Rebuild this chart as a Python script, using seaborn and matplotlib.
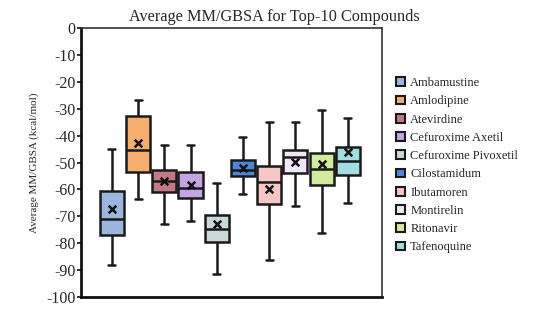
import matplotlib
matplotlib.use("Agg")
import matplotlib.pyplot as plt
import seaborn as sns
import pandas as pd

compounds = ["Ambamustine", "Amlodipine", "Atevirdine", "Cefuroxime Axetil",
             "Cefuroxime Pivoxetil", "Cilostamidum", "Ibutamoren", "Montirelin",
             "Ritonavir", "Tafenoquine"]
whisker_low = [-88.2, -63.6, -72.7, -71.7, -91.3, -61.6, -86.3, -66.2, -76.3, -65.0]
q1 = [-76.9, -53.5, -60.9, -63.1, -79.6, -55.1, -65.4, -54.0, -58.4, -54.7]
median = [-71.0, -45.5, -56.7, -59.4, -74.6, -52.7, -57.2, -48.1, -52.5, -49.6]
q3 = [-60.7, -32.8, -52.6, -53.5, -69.6, -49.1, -51.4, -45.4, -46.4, -44.3]
whisker_high = [-44.8, -26.8, -43.4, -43.4, -57.5, -40.6, -34.8, -34.8, -30.6, -33.5]
means = [-67.1, -42.7, -56.8, -58.2, -73.0, -52.0, -59.7, -49.7, -50.7, -46.2]
colors = ["#9bb7e0", "#f5ae6e", "#c47a82", "#c4a5e3", "#c9d9d9",
          "#4f86d6", "#f5c6c4", "#f1e6f8", "#d1ec9e", "#a2dde3"]
yticks = list(range(0, -101, -10))

rows = []
for i, c in enumerate(compounds):
    for v in (whisker_low[i], q1[i], median[i], q3[i], whisker_high[i]):
        rows.append({"compound": c, "value": v})
df = pd.DataFrame(rows)
mdf = pd.DataFrame({"compound": compounds, "mean": means})

sns.set_style("white")
plt.rcParams["font.family"] = ["Liberation Serif", "DejaVu Serif"]

fig = plt.figure(figsize=(5.36, 3.09), dpi=100)
ax = fig.add_axes([0.151, 0.039, 0.562, 0.870])

sns.boxplot(data=df, x="compound", y="value", hue="compound", order=compounds,
            hue_order=compounds, palette=colors, saturation=1, dodge=False, width=0.92,
            whis=(0, 100), linecolor="#1a1a1a", linewidth=1.8, showfliers=False,
            capwidths=0.27, legend=True, ax=ax)
sns.scatterplot(data=mdf, x="compound", y="mean", marker="x", color="#111111",
                s=30, linewidth=1.8, ax=ax, legend=False, zorder=5)

ax.set_xlim(-1.18, 10.31)
ax.set_ylim(-100, 0)
ax.set_yticks(yticks)
ax.set_yticklabels([str(t) for t in yticks], fontsize=11.5)
ax.set_xticks([])
ax.set_xlabel("")
ax.set_ylabel("Average MM/GBSA (kcal/mol)", fontsize=8, labelpad=5)
ax.tick_params(axis="y", direction="out", length=3, width=1.2, color="#111111", pad=1, left=True)
fig.text(0.511, 1 - 17 / 309, "Average MM/GBSA for Top-10 Compounds", fontsize=11.7,
         ha="center", va="center")

for side in ("left", "bottom"):
    ax.spines[side].set_linewidth(2.0)
    ax.spines[side].set_color("#111111")
for side in ("top", "right"):
    ax.spines[side].set_linewidth(1.2)
    ax.spines[side].set_color("#333333")

leg = ax.legend(loc="center left", bbox_to_anchor=(1.01, 0.49), frameon=False,
                fontsize=9, handlelength=0.7, handleheight=0.7, handletextpad=0.4,
                labelspacing=0.5)
for h in leg.legend_handles:
    h.set_edgecolor("#1a1a1a")
    h.set_linewidth(1.5)

fig.savefig("out.png", dpi=100)
